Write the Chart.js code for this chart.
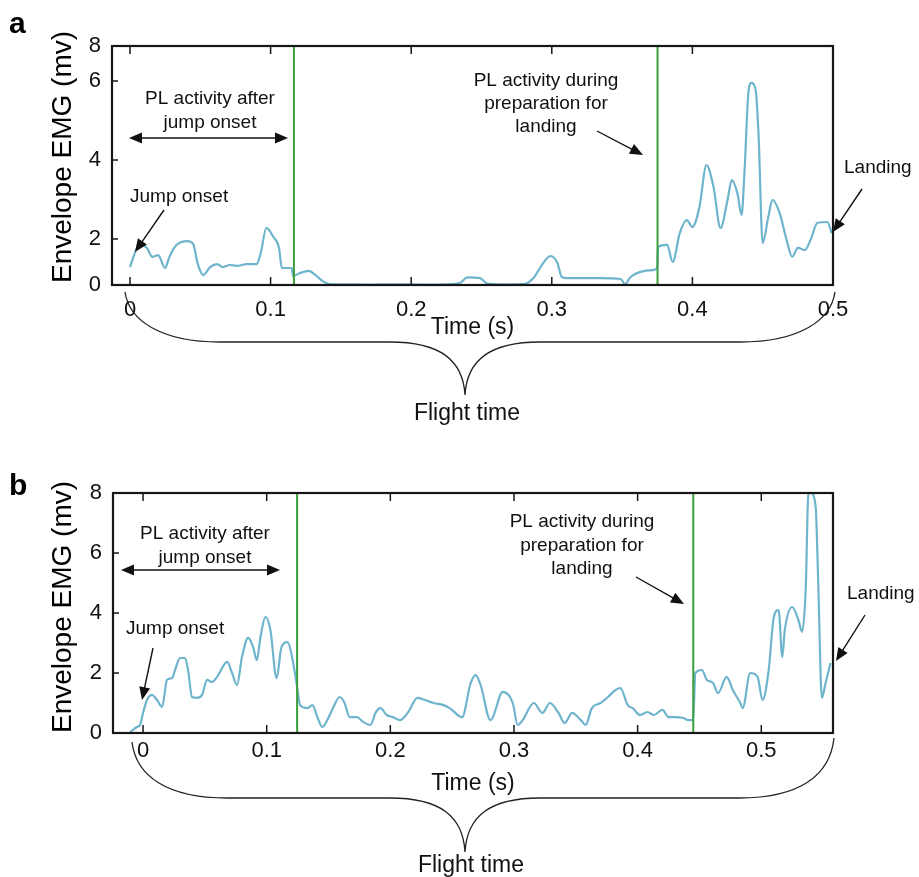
<!DOCTYPE html>
<html>
<head>
<meta charset="utf-8">
<script src="https://cdn.jsdelivr.net/npm/chart.js@4.4.1/dist/chart.umd.min.js"></script>
<style>
html,body{margin:0;padding:0;background:#fff;width:919px;height:877px;overflow:hidden;}
canvas{display:block;position:absolute;left:0;}
</style>
</head>
<body>
<canvas id="ca" width="919" height="438" style="top:0px"></canvas>
<canvas id="cb" width="919" height="439" style="top:438px"></canvas>
<script>
// ---------------- DATA ----------------
// Panel a: time (s) and envelope EMG (mV)
const timeA = [0.000,0.005,0.008,0.012,0.016,0.020,0.025,0.028,0.033,0.041,0.045,0.048,0.052,0.057,0.062,0.066,0.071,0.076,0.083,0.090,0.093,0.097,0.102,0.106,0.108,0.115,0.116,0.121,0.127,0.132,0.137,0.142,0.150,0.170,0.190,0.210,0.225,0.235,0.240,0.249,0.254,0.265,0.280,0.287,0.292,0.299,0.304,0.307,0.311,0.334,0.349,0.352,0.356,0.363,0.372,0.375,0.3755,0.382,0.386,0.391,0.396,0.400,0.405,0.410,0.415,0.420,0.425,0.428,0.432,0.435,0.437,0.440,0.442,0.445,0.447,0.450,0.454,0.457,0.462,0.467,0.471,0.475,0.480,0.484,0.489,0.496,0.499];
const emgA = [0.78,1.61,1.74,1.61,1.22,1.30,0.74,1.22,1.74,1.91,1.78,0.96,0.43,0.78,0.91,0.78,0.87,0.83,0.91,0.91,1.39,2.28,2.05,1.61,0.74,0.74,0.39,0.52,0.61,0.43,0.17,0.04,0.03,0.02,0.03,0.02,0.03,0.10,0.33,0.30,0.06,0.03,0.04,0.30,0.78,1.26,0.96,0.35,0.30,0.30,0.26,0.04,0.35,0.57,0.65,0.74,1.65,1.74,1.00,2.15,2.48,2.30,2.81,3.87,3.32,2.28,2.99,3.49,3.16,2.61,3.67,5.77,5.95,5.77,4.68,1.83,2.56,2.99,2.66,1.96,1.22,1.61,1.52,1.96,2.41,2.43,2.15];
// Panel b
const timeB = [-0.0105,-0.0049,-0.0024,0.000,0.0032,0.0073,0.0113,0.0154,0.0194,0.0235,0.0259,0.0299,0.034,0.0364,0.0396,0.0437,0.0477,0.0518,0.0558,0.0599,0.068,0.072,0.076,0.080,0.085,0.089,0.092,0.095,0.099,0.103,0.108,0.112,0.117,0.121,0.1246,0.127,0.133,0.137,0.141,0.145,0.149,0.154,0.159,0.163,0.167,0.173,0.178,0.184,0.188,0.192,0.197,0.202,0.208,0.214,0.222,0.228,0.235,0.243,0.248,0.258,0.265,0.269,0.273,0.281,0.291,0.299,0.303,0.307,0.316,0.323,0.329,0.336,0.341,0.347,0.354,0.358,0.363,0.370,0.376,0.382,0.386,0.392,0.396,0.402,0.408,0.413,0.420,0.425,0.430,0.437,0.441,0.445,0.4466,0.452,0.456,0.461,0.465,0.472,0.477,0.483,0.485,0.491,0.497,0.501,0.506,0.510,0.514,0.517,0.519,0.525,0.530,0.533,0.536,0.538,0.540,0.544,0.546,0.549,0.552,0.556];
const emgB = [0.03,0.2,0.27,0.67,1.1,1.27,1.1,0.87,1.77,1.83,2.1,2.5,2.5,2.1,1.2,1.17,1.27,1.77,1.7,1.87,2.37,2.0,1.6,2.53,3.17,2.87,2.43,3.2,3.87,3.43,1.83,2.87,3.03,2.43,1.53,0.93,0.83,0.93,0.53,0.2,0.43,0.87,1.2,1.0,0.53,0.53,0.37,0.27,0.67,0.83,0.6,0.53,0.43,0.67,1.17,1.1,1.0,0.93,0.83,0.53,1.67,1.93,1.6,0.43,1.37,1.0,0.27,0.43,1.0,0.67,1.0,0.67,0.33,0.67,0.43,0.27,0.83,1.0,1.2,1.43,1.5,0.93,0.83,0.6,0.7,0.6,0.77,0.53,0.53,0.5,0.43,0.43,2.0,2.1,1.77,1.67,1.33,1.87,1.43,1.0,0.83,2.0,1.87,1.1,2.1,3.83,4.1,2.53,3.43,4.2,3.77,3.37,4.87,7.93,8.0,7.53,5.1,1.17,1.67,2.33];
// Tick labels
const xTicksA = [0, 0.1, 0.2, 0.3, 0.4, 0.5];
const xTicksB = [0, 0.1, 0.2, 0.3, 0.4, 0.5];
const yTicksA = [0, 2, 4, 6, 8];
const yTicksB = [0, 2, 4, 6, 8];
// Phase boundaries (green lines), seconds
const phaseLinesA = [0.1166, 0.3752];
const phaseLinesB = [0.1246, 0.445];

// ---------------- SCALE (panel a axis is printed non-uniformly) ----------------
const yBreakValuesA = [0, 2, 4, 6, 8];
const yBreakFracsA = [0, 0.1925, 0.523, 0.8536, 1];
function pwForward(v){
  const V=yBreakValuesA, F=yBreakFracsA;
  let i=0; while(i<V.length-2 && v>V[i+1]) i++;
  return F[i] + (v-V[i])/(V[i+1]-V[i])*(F[i+1]-F[i]);
}
function pwInverse(f){
  const V=yBreakValuesA, F=yBreakFracsA;
  let i=0; while(i<F.length-2 && f>F[i+1]) i++;
  return V[i] + (f-F[i])/(F[i+1]-F[i])*(V[i+1]-V[i]);
}
class PiecewiseLinearScale extends Chart.LinearScale {
  getPixelForValue(value){
    if(value===null||value===undefined||isNaN(value)) return NaN;
    return this.getPixelForDecimal(pwForward(value));
  }
  getValueForPixel(pixel){ return pwInverse(this.getDecimalForPixel(pixel)); }
}
PiecewiseLinearScale.id = 'piecewise';
PiecewiseLinearScale.defaults = Chart.LinearScale.defaults;
Chart.register(PiecewiseLinearScale);

// ---------------- STYLE ----------------
const SANS = "'Liberation Sans', Arial, Helvetica, sans-serif";
Chart.defaults.font.family = SANS;
Chart.defaults.color = '#111';
const TRACE = '#6fb4cd';
const GREEN = '#3a9e3a';
const INK = '#161616';

function xLabel(v){ return Math.abs(v)<1e-9 ? '0' : (Math.round(v*10)/10).toFixed(1); }

function arrowHead(ctx,x1,y1,x2,y2,head,w){
  const a=Math.atan2(y2-y1,x2-x1), c=Math.cos(a), s=Math.sin(a);
  ctx.beginPath();
  ctx.moveTo(x2,y2);
  ctx.lineTo(x2-head*c+w*s, y2-head*s-w*c);
  ctx.lineTo(x2-head*c-w*s, y2-head*s+w*c);
  ctx.closePath(); ctx.fill();
}
function arrow(ctx,x1,y1,x2,y2){
  const a=Math.atan2(y2-y1,x2-x1);
  ctx.beginPath(); ctx.moveTo(x1,y1); ctx.lineTo(x2-Math.cos(a)*8,y2-Math.sin(a)*8); ctx.stroke();
  arrowHead(ctx,x1,y1,x2,y2,13,5.5);
}
function dblArrow(ctx,x1,x2,y){
  ctx.beginPath(); ctx.moveTo(x1+8,y); ctx.lineTo(x2-8,y); ctx.stroke();
  arrowHead(ctx,x2,y,x1,y,13,5.5);
  arrowHead(ctx,x1,y,x2,y,13,5.5);
}
function brace(ctx,b){
  const {sx,sy,ex,ey,flatY,tipX,tipY}=b;
  ctx.beginPath();
  ctx.moveTo(sx,sy);
  ctx.bezierCurveTo(sx+4,flatY-22, sx+35,flatY, sx+95,flatY);
  ctx.lineTo(tipX-75,flatY);
  ctx.bezierCurveTo(tipX-25,flatY, tipX-2,flatY+18, tipX,tipY);
  ctx.bezierCurveTo(tipX+2,flatY+18, tipX+25,flatY, tipX+75,flatY);
  ctx.lineTo(ex-95,flatY);
  ctx.bezierCurveTo(ex-35,flatY, ex-4,flatY-22, ex,ey);
  ctx.stroke();
}

function annotPlugin(a){
  return {
    id:'annot',
    afterDatasetsDraw(chart){
      const {ctx, chartArea:ca, scales:{x,y}} = chart;
      ctx.save();
      // phase boundary lines
      ctx.strokeStyle=GREEN; ctx.lineWidth=2;
      a.markers.forEach(m=>{ const px=x.getPixelForValue(m); ctx.beginPath(); ctx.moveTo(px,ca.top); ctx.lineTo(px,ca.bottom); ctx.stroke(); });
      // frame
      ctx.strokeStyle=INK; ctx.lineWidth=2.2;
      ctx.strokeRect(ca.left,ca.top,ca.right-ca.left,ca.bottom-ca.top);
      // inner tick marks
      ctx.lineWidth=1.5;
      const seg=(x1,y1,x2,y2)=>{ctx.beginPath();ctx.moveTo(x1,y1);ctx.lineTo(x2,y2);ctx.stroke();};
      x.ticks.forEach(t=>{ const px=x.getPixelForValue(t.value); if(px>ca.left+2&&px<ca.right-2){ seg(px,ca.bottom,px,ca.bottom-8); seg(px,ca.top,px,ca.top+8);} });
      y.ticks.forEach(t=>{ const py=y.getPixelForValue(t.value); if(py>ca.top+2&&py<ca.bottom-2){ seg(ca.left,py,ca.left+6,py);} });
      // panel letter
      ctx.fillStyle='#000';
      ctx.font=`bold 30px ${SANS}`; ctx.textAlign='left'; ctx.textBaseline='alphabetic';
      ctx.fillText(a.letter.text,a.letter.x,a.letter.y);
      // y axis title
      ctx.save();
      ctx.translate(a.yTitle.x,a.yTitle.y); ctx.rotate(-Math.PI/2);
      ctx.font=`28px ${SANS}`; ctx.textAlign='center'; ctx.textBaseline='middle';
      ctx.fillText('Envelope EMG (mv)',0,0);
      ctx.restore();
      // notes
      ctx.fillStyle='#111'; ctx.font=`19px ${SANS}`; ctx.textBaseline='alphabetic';
      a.notes.forEach(n=>{ ctx.textAlign=n.align||'center'; n.lines.forEach((l,i)=>ctx.fillText(l,n.x,n.y+i*(n.lh||24))); });
      // arrows
      ctx.strokeStyle='#111'; ctx.fillStyle='#111'; ctx.lineWidth=1.4;
      a.arrows.forEach(r=>arrow(ctx,r[0],r[1],r[2],r[3]));
      a.dbl.forEach(d=>dblArrow(ctx,d[0],d[1],d[2]));
      // brace + flight time
      ctx.strokeStyle='#222'; ctx.lineWidth=1.3;
      brace(ctx,a.brace);
      ctx.fillStyle='#111'; ctx.font=`23px ${SANS}`; ctx.textAlign='center';
      ctx.fillText('Flight time',a.flight.x,a.flight.y);
      ctx.restore();
    }
  };
}

function buildChart(id,o){
  return new Chart(document.getElementById(id),{
    type:'line',
    data:{datasets:[{
      data:o.t.map((t,i)=>({x:t,y:o.v[i]})),
      borderColor:TRACE, borderWidth:2.2, pointRadius:0, fill:false,
      cubicInterpolationMode:'monotone', clip:4
    }]},
    options:{
      responsive:false, animation:false, devicePixelRatio:1,
      layout:{padding:o.padding},
      plugins:{legend:{display:false},tooltip:{enabled:false}},
      scales:{
        x:{type:'linear',min:o.xMin,max:o.xMax,
          afterBuildTicks:s=>{s.ticks=o.xTicks.map(v=>({value:v}));},
          ticks:{font:{size:22},color:'#111',padding:o.xTickPad,autoSkip:false,maxRotation:0,callback:v=>xLabel(v)},
          grid:{display:false,drawTicks:false},border:{display:false},
          title:{display:true,text:'Time (s)',font:{size:23},color:'#111',padding:{top:0,bottom:o.xTitlePad}},
          afterFit:s=>{s.height=o.xH;}
        },
        y:{type:o.yType,min:0,max:8,
          afterBuildTicks:s=>{s.ticks=o.yTicks.map(v=>({value:v}));},
          ticks:{font:{size:22},color:'#111',padding:11,callback:v=>String(v)},
          grid:{display:false,drawTicks:false},border:{display:false},
          afterFit:s=>{s.width=o.yW;}
        }
      }
    },
    plugins:[annotPlugin(o.annot)]
  });
}

buildChart('ca',{
  t:timeA, v:emgA, xTicks:xTicksA, yTicks:yTicksA, yType:'piecewise',
  xMin:-0.0128, xMax:0.5, xTickPad:12, xTitlePad:4, xH:60, yW:112,
  padding:{left:0,right:86,top:46,bottom:93},
  annot:{
    markers:phaseLinesA,
    letter:{text:'a',x:9,y:33},
    yTitle:{x:63,y:157},
    notes:[
      {lines:['PL activity after','jump onset'],x:210,y:104,lh:24},
      {lines:['Jump onset'],x:130,y:202,align:'left'},
      {lines:['PL activity during','preparation for','landing'],x:546,y:86,lh:23},
      {lines:['Landing'],x:844,y:173,align:'left'}
    ],
    arrows:[[164,210,135,252],[597,131,643,155],[862,189,833,232]],
    dbl:[[129,288,138]],
    brace:{sx:125,sy:292,ex:835,ey:292,flatY:342,tipX:465,tipY:395},
    flight:{x:467,y:420}
  }
});

buildChart('cb',{
  t:timeB, v:emgB, xTicks:xTicksB, yTicks:yTicksB, yType:'linear',
  xMin:-0.0243, xMax:0.558, xTickPad:5, xTitlePad:2, xH:66, yW:113,
  padding:{left:0,right:86,top:55,bottom:78},
  annot:{
    markers:phaseLinesB,
    letter:{text:'b',x:9,y:57},
    yTitle:{x:63,y:169},
    notes:[
      {lines:['PL activity after','jump onset'],x:205,y:101,lh:24},
      {lines:['Jump onset'],x:126,y:196,align:'left'},
      {lines:['PL activity during','preparation for','landing'],x:582,y:89,lh:23.5},
      {lines:['Landing'],x:847,y:161,align:'left'}
    ],
    arrows:[[153,210,142,262],[636,139,684,166],[865,177,836,223]],
    dbl:[[121,280,132]],
    brace:{sx:132,sy:304,ex:834,ey:300,flatY:360,tipX:465,tipY:414},
    flight:{x:471,y:434}
  }
});
</script>
</body>
</html>
